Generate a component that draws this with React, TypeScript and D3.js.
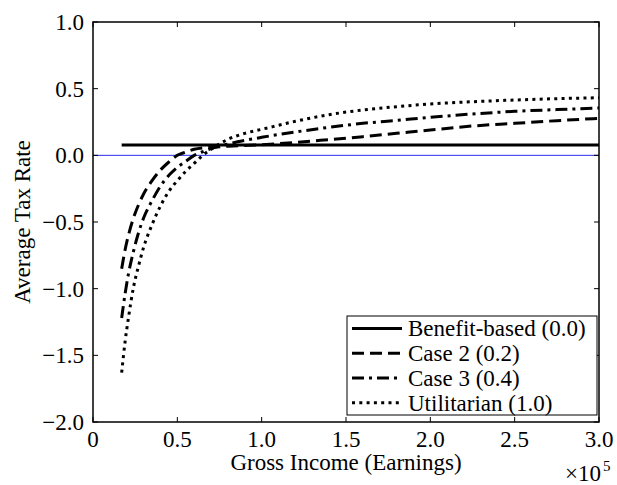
import React from "react";
import * as d3 from "d3";

// Gross income (units of 1e5)
const incomes = [0.17, 0.19, 0.21, 0.24, 0.27, 0.30, 0.35, 0.40, 0.45, 0.50, 0.55, 0.60, 0.65, 0.70, 0.80, 0.90, 1.00, 1.20, 1.40, 1.60, 1.80, 2.00, 2.25, 2.50, 2.75, 3.00];

const benefitBased = [0.077, 0.077, 0.077, 0.077, 0.077, 0.077, 0.077, 0.077, 0.077, 0.077, 0.077, 0.077, 0.077, 0.077, 0.077, 0.077, 0.077, 0.077, 0.077, 0.077, 0.077, 0.077, 0.077, 0.077, 0.077, 0.077];
const case2 = [-0.85, -0.71, -0.60, -0.47, -0.37, -0.29, -0.19, -0.11, -0.05, 0.0, 0.025, 0.045, 0.055, 0.06, 0.068, 0.074, 0.08, 0.097, 0.118, 0.14, 0.165, 0.19, 0.22, 0.24, 0.26, 0.277];
const case3 = [-1.22, -1.04, -0.89, -0.72, -0.58, -0.47, -0.34, -0.23, -0.15, -0.09, -0.045, 0.0, 0.027, 0.05, 0.085, 0.112, 0.135, 0.175, 0.21, 0.24, 0.262, 0.285, 0.31, 0.33, 0.343, 0.355];
const utilitarian = [-1.63, -1.40, -1.22, -0.99, -0.83, -0.69, -0.52, -0.38, -0.27, -0.19, -0.12, -0.06, 0.0, 0.045, 0.12, 0.165, 0.195, 0.255, 0.305, 0.34, 0.365, 0.385, 0.402, 0.415, 0.425, 0.432];

const seriesNames = ["Benefit-based (0.0)", "Case 2 (0.2)", "Case 3 (0.4)", "Utilitarian (1.0)"];
const seriesValues = [benefitBased, case2, case3, utilitarian];
const seriesDash = ["none", "12 6", "12 5 3 5", "3 4.3"];

const xTicks = [0, 0.5, 1.0, 1.5, 2.0, 2.5, 3.0];
const xTickLabels = ["0", "0.5", "1.0", "1.5", "2.0", "2.5", "3.0"];
const yTicks = [1.0, 0.5, 0.0, -0.5, -1.0, -1.5, -2.0];
const yTickLabels = ["1.0", "0.5", "0.0", "\u22120.5", "\u22121.0", "\u22121.5", "\u22122.0"];

const W = 617;
const H = 485;
const M = { left: 93, right: 599, top: 22, bottom: 422 };
const FONT = "Liberation Serif, Times New Roman, DejaVu Serif, serif";

export default function App() {
  const x = d3.scaleLinear().domain([0, 3]).range([M.left, M.right]);
  const y = d3.scaleLinear().domain([-2, 1]).range([M.bottom, M.top]);
  const line = d3
    .line<number>()
    .x((_, i) => x(incomes[i]))
    .y((d) => y(d))
    .curve(d3.curveMonotoneX);

  const tickLen = 5;
  const legend = { left: 347, right: 597, top: 316, bottom: 415 };
  const rowH = (legend.bottom - legend.top) / 4;
  const fs = 23;

  return (
    <svg
      width={W}
      height={H}
      style={{ position: "absolute", left: 0, top: 0, background: "#fff", fontFamily: FONT }}
    >
      <rect x={0} y={0} width={W} height={H} fill="#fff" />
      {/* zero line */}
      <line x1={M.left} x2={M.right} y1={y(0)} y2={y(0)} stroke="#2a2aee" strokeWidth={1} />
      {/* series */}
      {seriesValues.map((vals, k) => (
        <path
          key={k}
          d={line(vals) || ""}
          fill="none"
          stroke="#000"
          strokeWidth={3}
          strokeDasharray={seriesDash[k]}
        />
      ))}
      {/* axes box */}
      <rect x={M.left} y={M.top} width={M.right - M.left} height={M.bottom - M.top} fill="none" stroke="#000" strokeWidth={1.5} />
      {/* x ticks */}
      {xTicks.map((t, i) => (
        <g key={"x" + i}>
          <line x1={x(t)} x2={x(t)} y1={M.bottom} y2={M.bottom - tickLen} stroke="#000" strokeWidth={1} />
          <line x1={x(t)} x2={x(t)} y1={M.top} y2={M.top + tickLen} stroke="#000" strokeWidth={1} />
          <text x={x(t)} y={447} fontSize={fs} textAnchor="middle" fill="#000" style={{ fontFamily: FONT }}>
            {xTickLabels[i]}
          </text>
        </g>
      ))}
      {/* y ticks */}
      {yTicks.map((t, i) => (
        <g key={"y" + i}>
          <line x1={M.left} x2={M.left + tickLen} y1={y(t)} y2={y(t)} stroke="#000" strokeWidth={1} />
          <line x1={M.right} x2={M.right - tickLen} y1={y(t)} y2={y(t)} stroke="#000" strokeWidth={1} />
          <text x={84} y={y(t) + 8} fontSize={fs} textAnchor="end" fill="#000" style={{ fontFamily: FONT }}>
            {yTickLabels[i]}
          </text>
        </g>
      ))}
      {/* axis labels */}
      <text x={(M.left + M.right) / 2} y={470} fontSize={fs} textAnchor="middle" fill="#000" style={{ fontFamily: FONT }}>
        Gross Income (Earnings)
      </text>
      <text
        transform={`translate(30, ${(M.top + M.bottom) / 2}) rotate(-90)`}
        fontSize={fs}
        textAnchor="middle"
        fill="#000"
        style={{ fontFamily: FONT }}
      >
        Average Tax Rate
      </text>
      <text x={565} y={481} fontSize={fs} fill="#000" style={{ fontFamily: FONT }}>
        ×10
        <tspan fontSize={15} dx={2} dy={-10}>5</tspan>
      </text>
      {/* legend */}
      <rect
        x={legend.left}
        y={legend.top}
        width={legend.right - legend.left}
        height={legend.bottom - legend.top}
        fill="#fff"
        stroke="#000"
        strokeWidth={1}
      />
      {seriesNames.map((name, k) => {
        const cy = legend.top + rowH * (k + 0.5);
        return (
          <g key={"l" + k}>
            <line
              x1={legend.left + 5}
              x2={402}
              y1={cy}
              y2={cy}
              stroke="#000"
              strokeWidth={3}
              strokeDasharray={seriesDash[k]}
            />
            <text x={408} y={cy + 8} fontSize={fs} fill="#000" style={{ fontFamily: FONT }}>
              {name}
            </text>
          </g>
        );
      })}
    </svg>
  );
}
